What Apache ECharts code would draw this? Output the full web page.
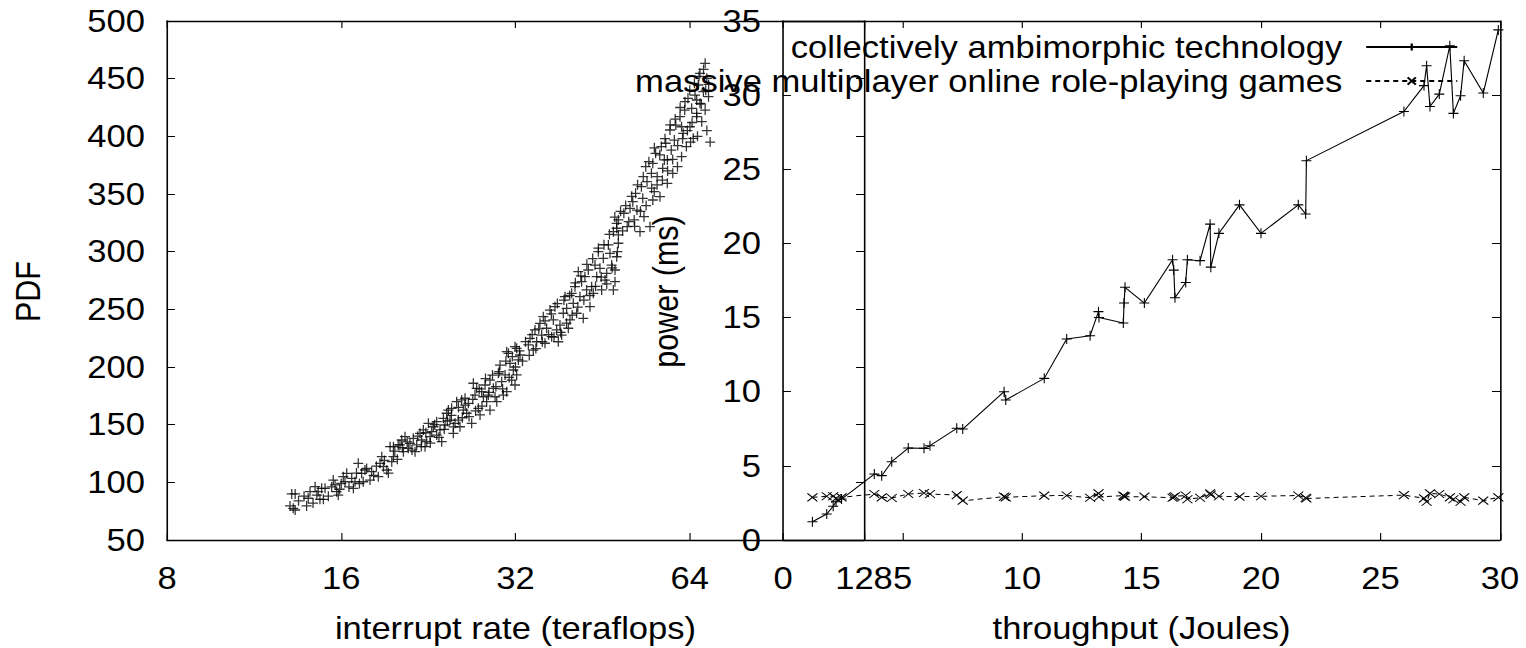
<!DOCTYPE html>
<html>
<head>
<meta charset="UTF-8">
<title>chart</title>
<script src="https://cdn.jsdelivr.net/npm/echarts@6/dist/echarts.min.js"></script>
<style>
  html, body { margin: 0; padding: 0; background: #fff; overflow: hidden; }
  #chart { transform-origin: 0 0; }
</style>
</head>
<body>
<div id="chart"></div>
<script>
// left panel: interrupt rate (teraflops) vs PDF
var rateX = [
  13.14,13.32,13.05,13.22,13.32,13.94,14.13,14.03,14.42,14.52,14.80,14.90,14.70,15.00,15.50,15.61,15.71,15.81,16.13,16.24,
  16.35,16.68,16.79,16.90,17.12,17.35,17.46,17.58,17.94,18.06,18.54,18.67,18.80,18.92,19.18,19.43,19.56,19.69,20.21,
  19.69,20.07,20.35,20.62,20.49,20.89,21.03,21.31,21.46,21.60,21.89,22.03,22.18,22.33,22.48,22.63,22.78,22.93,23.08,23.39,
  23.39,23.70,23.86,24.02,24.18,24.34,24.50,24.66,24.82,24.99,25.16,25.49,25.66,25.32,25.83,26.00,26.18,26.35,26.53,26.88,
  27.06,27.24,27.42,27.60,27.79,27.97,28.16,28.35,28.53,28.72,28.91,28.91,29.30,29.50,29.70,29.89,30.09,30.29,30.49,30.70,
  30.90,31.11,31.31,31.52,31.73,31.94,32.15,32.36,32.15,
  30.90,31.94,32.58,33.68,33.90,34.35,34.58,34.81,35.27,35.51,35.74,35.98,36.22,36.70,36.95,37.20,37.44,37.69,37.94,38.19,
  38.45,38.70,38.96,39.22,39.48,39.74,40.01,40.27,40.54,40.81,41.08,41.35,41.63,41.90,42.18,42.46,42.75,43.04,43.32,43.61,
  43.90,44.20,44.49,44.78,45.08,45.38,45.69,45.99,46.30,46.60,46.91,47.23,47.54,47.86,48.18,48.18,47.86,47.54,
  47.23,47.86,48.18,49.24,49.90,50.46,51.02,51.31,51.60,51.88,52.51,52.80,53.09,53.35,53.72,54.00,54.64,54.95,55.25,55.56,
  55.87,56.22,56.85,57.16,57.47,57.85,58.17,58.54,59.16,59.46,59.82,60.20,60.54,60.95,61.57,61.95,62.35,62.73,63.14,63.55,
  64.06,64.49,64.90,65.35,65.79,66.22,66.66,67.13,67.57,68.05,68.50,68.05,68.96,66.66,65.79,61.95,58.54,55.25,69.40,68.50,
  13.5,13.8,14.3,14.6,15.2,15.4,15.9,16.0,16.5,17.0,17.2,17.7,18.2,18.4,19.0,19.3,19.8,20.0,20.4,20.8,
  21.2,21.7,22.0,22.4,22.8,23.2,23.6,24.1,24.4,24.8,25.0,25.5,25.9,26.2,26.6,27.0,27.3,27.7,28.0,28.4,
  28.8,29.2,29.6,30.0,30.4,30.8,31.2,31.6,32.0,32.5,32.9,33.3,33.8,34.2,34.7,35.1,35.6,36.0,36.5,36.9,
  37.3,37.8,38.3,38.8,39.2,39.7,40.1,40.6,41.0,41.5,42.0,42.5,43.0,43.5,44.0,44.5,45.0,45.5,46.0,46.5,
  47.0,47.5,48.0,48.6,49.0,49.6,50.2,50.8,51.4,52.0,52.6,53.2,53.8,54.4,55.0,55.6,56.2,56.8,57.4,58.0,
  58.6,59.2,59.8,60.4,61.0,61.6,62.2,62.8,63.4,64.0,64.6,65.2,65.8,66.4,67.0,67.6,68.2,66.0,64.2,69.0
];
var pdfY = [
  89.9,89.9,79.5,77.5,76.0,79.5,91.9,86.2,96.2,89.0,94.8,85.3,85.3,94.8,102.0,97.7,91.9,89.0,104.9,100.5,
  107.8,103.5,94.8,100.5,116.5,107.8,100.5,110.7,102.0,109.2,104.9,116.5,122.2,113.6,110.7,130.9,117.9,122.2,132.4,
  130.9,132.4,136.7,139.6,126.6,129.5,133.8,138.2,126.6,132.4,142.5,136.7,145.4,130.9,135.2,151.2,139.6,143.9,148.2,152.6,
  141.0,145.4,135.2,155.5,149.7,159.9,162.7,154.0,164.2,142.5,151.2,154.0,148.2,169.9,171.4,162.7,172.9,159.9,168.5,151.2,
  185.9,175.7,181.5,164.2,158.4,178.6,174.2,184.4,169.9,175.7,188.7,162.7,181.5,174.2,169.9,194.5,201.7,187.3,175.7,193.1,
  178.6,211.9,203.2,188.7,197.4,184.4,216.2,206.1,193.1,
  213.3,217.6,210.4,219.1,224.9,214.7,232.1,221.9,237.9,227.7,243.6,220.6,233.6,249.4,226.3,240.8,252.3,232.1,221.9,236.4,
  227.7,246.6,261.0,250.9,233.6,240.8,263.9,255.2,269.6,246.6,282.6,261.0,274.0,242.2,278.3,266.8,284.1,252.3,269.6,263.9,
  288.4,278.3,300.0,285.6,266.8,294.2,275.4,281.2,305.8,298.6,288.4,266.8,284.1,320.3,327.5,307.3,295.6,274.0,
  317.3,324.6,314.5,333.3,321.7,337.6,343.3,327.5,350.6,336.1,317.3,356.3,346.3,330.3,373.7,360.7,321.7,367.9,376.6,352.0,
  385.3,365.0,347.7,391.1,372.3,379.5,394.0,359.3,405.5,388.1,367.9,396.8,409.8,373.7,417.0,382.4,402.6,422.8,391.1,433.0,
  408.3,424.3,398.3,435.8,417.0,444.5,428.6,412.7,438.7,463.3,450.3,422.8,434.4,454.6,431.5,408.3,379.5,344.8,395.0,405.0,
  84,88,82,92,88,96,94,99,96,108,99,112,106,114,119,108,127,120,130,135,
  128,140,131,143,134,150,139,146,153,158,148,165,156,167,157,172,162,181,166,190,
  178,193,183,196,181,205,191,209,200,214,205,222,210,228,216,233,222,240,228,246,
  226,255,230,258,238,262,245,273,252,279,258,289,262,294,270,303,278,306,272,315,
  286,330,300,335,318,340,326,348,322,358,335,365,340,378,355,390,358,384,362,398,
  370,410,380,415,392,425,398,430,405,440,412,446,420,452,428,458,440,400,395,445
];

// right panel: throughput (Joules) vs power (ms)
var thrX = [
  1.23,1.83,2.10,2.22,2.45,3.82,4.13,4.55,5.24,5.90,6.15,7.27,7.52,9.25,9.32,10.93,11.87,12.85,13.20,13.22,
  14.24,14.27,14.31,15.12,16.30,16.35,16.40,16.85,16.92,17.45,17.87,17.90,18.24,19.10,20.00,21.56,21.87,21.90,
  25.98,26.82,26.93,27.07,27.46,27.90,28.05,28.35,28.50,29.30,29.93
];
var techY = [
  1.23,1.75,2.27,2.58,2.76,4.45,4.34,5.28,6.20,6.18,6.36,7.53,7.48,10.0,9.44,10.9,13.55,13.78,15.4,15.0,
  14.63,15.98,17.04,15.98,18.9,18.2,16.34,17.37,18.9,18.84,21.3,18.4,20.68,22.6,20.68,22.6,21.98,25.58,
  28.9,30.64,31.98,29.24,30.07,33.33,28.77,29.96,32.32,30.14,34.4
];
var mmoY = [
  2.88,2.95,2.95,2.81,2.88,3.10,2.88,2.83,3.10,3.17,3.10,3.03,2.65,2.92,2.88,2.99,3.00,2.85,3.15,2.90,
  2.99,2.95,2.92,2.92,2.85,2.90,2.95,3.00,2.75,2.85,3.15,3.05,2.95,2.92,2.95,3.00,2.85,2.80,
  3.03,2.81,2.58,3.15,3.10,2.88,2.75,2.58,2.88,2.65,2.88
];
var seriesNames = ['collectively ambimorphic technology', 'massive multiplayer online role-playing games'];

// the picture is stretched sideways a little, so draw narrow and scale the box
var S = 1.134;
var W = 1526 / S, H = 648;
var F = 30.5;
var FONT = 'Liberation Sans';
var el = document.getElementById('chart');
el.style.width = W + 'px';
el.style.height = H + 'px';
el.style.transform = 'scaleX(' + S + ')';

function sx(v) { return v / S; }
function pairs(xs, ys) {
  var out = [];
  for (var i = 0; i < Math.min(xs.length, ys.length); i++) out.push([xs[i], ys[i]]);
  return out;
}

var txt = { color: '#000', fontFamily: FONT, fontSize: F };
var plus = 'path://M0,5L10,5M5,0L5,10';
var cross = 'path://M0,0L10,10M10,0L0,10';

function axis(o, horiz, mirror) {
  var a = {
    axisLine: { show: true, onZero: false, lineStyle: { color: '#000', width: 1.4 } },
    axisTick: { show: true, inside: true, length: horiz ? 7 : sx(8), lineStyle: { color: '#000', width: 1 } },
    splitLine: { show: false },
    axisLabel: mirror ? { show: false } : Object.assign({ margin: horiz ? 23 : sx(22) }, txt)
  };
  return Object.assign(a, o);
}

var option = {
  animation: false,
  backgroundColor: '#fff',
  grid: [
    { left: sx(167), top: 21, width: sx(864 - 167), height: 519, outerBoundsMode: 'none' },
    { left: sx(783), top: 21, width: sx(1500 - 783), height: 519, outerBoundsMode: 'none' }
  ],
  xAxis: [
    axis({ gridIndex: 0, type: 'log', logBase: 2, min: 8, max: 128, position: 'bottom',
      name: 'interrupt rate (teraflops)', nameLocation: 'middle', nameGap: 73, nameTextStyle: txt }, true, false),
    axis({ gridIndex: 0, type: 'log', logBase: 2, min: 8, max: 128, position: 'top' }, true, true),
    axis({ gridIndex: 1, type: 'value', min: 0, max: 30, interval: 5, position: 'bottom',
      name: 'throughput (Joules)', nameLocation: 'middle', nameGap: 73, nameTextStyle: txt }, true, false),
    axis({ gridIndex: 1, type: 'value', min: 0, max: 30, interval: 5, position: 'top' }, true, true)
  ],
  yAxis: [
    axis({ gridIndex: 0, type: 'value', min: 50, max: 500, interval: 50, position: 'left',
      name: 'PDF', nameLocation: 'middle', nameGap: sx(167 - 28) - F / 2,
      nameTextStyle: Object.assign({ padding: [0, 22, 0, 0] }, txt) }, false, false),
    axis({ gridIndex: 0, type: 'value', min: 50, max: 500, interval: 50, position: 'right' }, false, true),
    axis({ gridIndex: 1, type: 'value', min: 0, max: 35, interval: 5, position: 'left',
      name: 'power (ms)', nameLocation: 'middle', nameGap: sx(783 - 666) - F / 2,
      nameTextStyle: Object.assign({ padding: [0, 22, 0, 0] }, txt) }, false, false),
    axis({ gridIndex: 1, type: 'value', min: 0, max: 35, interval: 5, position: 'right' }, false, true)
  ],
  legend: [
    { data: [seriesNames[0]], right: sx(1526 - 1458), top: 47 - 17, align: 'right', padding: 0,
      itemWidth: sx(91), itemHeight: 9, selectedMode: false,
      textStyle: Object.assign({ lineHeight: 34, padding: [0, sx(24) - 5, 0, 0] }, txt) },
    { data: [seriesNames[1]], right: sx(1526 - 1458), top: 81 - 17, align: 'right', padding: 0,
      itemWidth: sx(91), itemHeight: 9, selectedMode: false,
      textStyle: Object.assign({ lineHeight: 34, padding: [0, sx(24) - 5, 0, 0] }, txt) }
  ],
  series: [
    {
      name: 'PDF', type: 'scatter', xAxisIndex: 0, yAxisIndex: 0,
      data: pairs(rateX, pdfY),
      symbol: plus, symbolSize: [sx(10), 10],
      itemStyle: { color: '#000', borderColor: '#000', borderWidth: 1.2 }
    },
    {
      name: seriesNames[0], type: 'line', xAxisIndex: 2, yAxisIndex: 2,
      data: pairs(thrX, techY),
      symbol: plus, symbolSize: [sx(10), 10], showAllSymbol: true,
      lineStyle: { color: '#000', width: 1 },
      itemStyle: { color: '#000', borderColor: '#000', borderWidth: 1 }
    },
    {
      name: seriesNames[1], type: 'line', xAxisIndex: 2, yAxisIndex: 2,
      data: pairs(thrX, mmoY),
      symbol: cross, symbolSize: [sx(10), 8], showAllSymbol: true,
      lineStyle: { color: '#000', width: 1, type: [sx(5), sx(4)] },
      itemStyle: { color: '#000', borderColor: '#000', borderWidth: 1 }
    }
  ]
};

var chart = echarts.init(el, null, { renderer: 'svg' });
chart.setOption(option);
</script>
</body>
</html>
